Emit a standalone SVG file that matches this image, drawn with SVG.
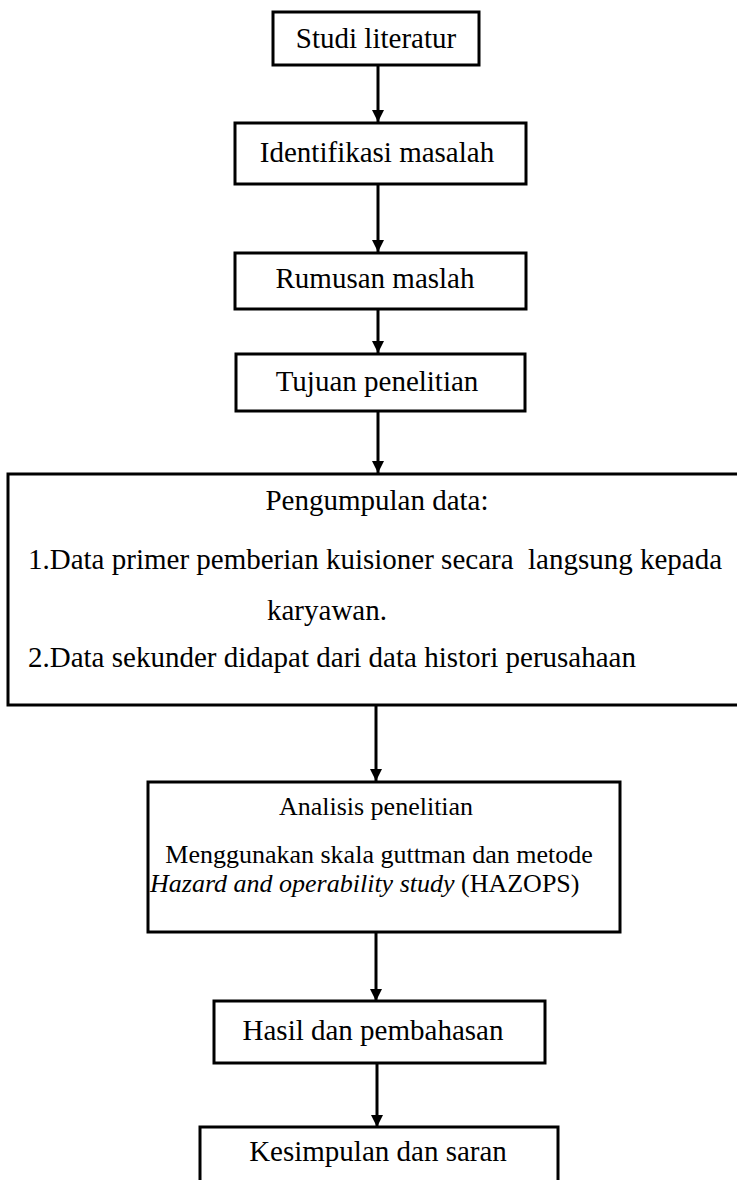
<svg xmlns="http://www.w3.org/2000/svg" width="737" height="1180" viewBox="0 0 737 1180">
<defs>
<style>
.box{fill:#fff;stroke:#000;stroke-width:3}
.t{font-family:"Liberation Serif","Times New Roman",serif;font-size:29px;fill:#000}
.s{font-family:"Liberation Serif","Times New Roman",serif;font-size:26px;fill:#000}
.c{text-anchor:middle}
.edge{stroke:#000;stroke-width:3;fill:none;marker-end:url(#ah)}
</style>
<marker id="ah" viewBox="0 0 10 10" refX="10" refY="5" markerWidth="4" markerHeight="4" orient="auto" markerUnits="strokeWidth">
<path d="M0,0 L10,5 L0,10 z" fill="#000"/>
</marker>
</defs>
<rect width="737" height="1180" fill="#fff"/>
<g id="connectors">
<line class="edge" x1="378" y1="65" x2="378" y2="122"/>
<line class="edge" x1="378" y1="184" x2="378" y2="252"/>
<line class="edge" x1="378" y1="309" x2="378" y2="353"/>
<line class="edge" x1="378" y1="411" x2="378" y2="473"/>
<line class="edge" x1="376" y1="705" x2="376" y2="781"/>
<line class="edge" x1="376" y1="932" x2="376" y2="1001"/>
<line class="edge" x1="377" y1="1063" x2="377" y2="1127"/>
</g>
<g id="n1">
<rect class="box" x="273" y="12" width="206" height="53"/>
<text class="t c" x="376" y="48">Studi literatur</text>
</g>
<g id="n2">
<rect class="box" x="235" y="123" width="291" height="61"/>
<text class="t c" x="377" y="162">Identifikasi masalah</text>
</g>
<g id="n3">
<rect class="box" x="235" y="253" width="291" height="56"/>
<text class="t c" x="375" y="288">Rumusan maslah</text>
</g>
<g id="n4">
<rect class="box" x="236" y="354" width="289" height="57"/>
<text class="t c" x="377" y="391">Tujuan penelitian</text>
</g>
<g id="n5">
<rect class="box" x="8" y="474" width="740" height="231"/>
<text class="t c" x="377" y="510">Pengumpulan data:</text>
<text class="t" x="28" y="569" xml:space="preserve">1.Data primer pemberian kuisioner secara  langsung kepada</text>
<text class="t" x="267" y="620">karyawan.</text>
<text class="t" x="28" y="667">2.Data sekunder didapat dari data histori perusahaan</text>
</g>
<g id="n6">
<rect class="box" x="148" y="782" width="472" height="150"/>
<text class="s c" x="376" y="815">Analisis penelitian</text>
<text class="s c" x="379" y="863">Menggunakan skala guttman dan metode</text>
<text class="s" x="150" y="892"><tspan font-style="italic">Hazard and operability study</tspan> (HAZOPS)</text>
</g>
<g id="n7">
<rect class="box" x="214" y="1001" width="331" height="62"/>
<text class="t c" x="373" y="1040">Hasil dan pembahasan</text>
</g>
<g id="n8">
<rect class="box" x="200" y="1127" width="358" height="70"/>
<text class="t c" x="378" y="1161">Kesimpulan dan saran</text>
</g>
</svg>
